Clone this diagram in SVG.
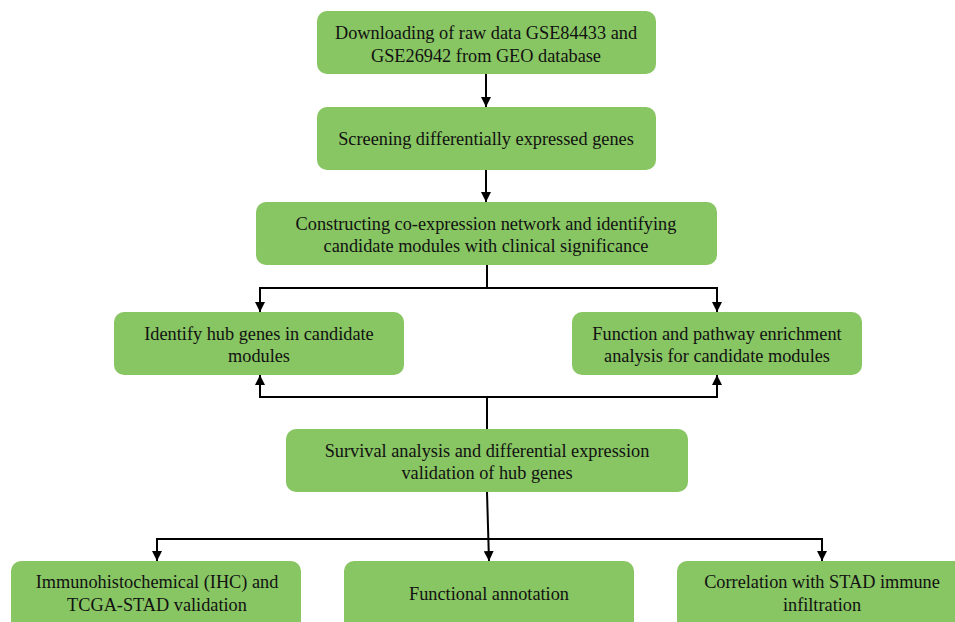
<svg xmlns="http://www.w3.org/2000/svg" width="955" height="622" viewBox="0 0 955 622">
<style>
.box{fill:#88c563;}
.t{font-size:18.3px;fill:#111;text-anchor:middle;}
.c{fill:none;stroke:#000;stroke-width:2;}
</style>
<defs>
<marker id="ah" viewBox="0 0 10 10" refX="10" refY="5" markerWidth="5" markerHeight="5" orient="auto" markerUnits="strokeWidth">
<path d="M0,0 L10,5 L0,10 z" fill="#000"/>
</marker>
</defs>
<rect width="955" height="622" fill="#fff"/>
<g id="connectors">
<path class="c" d="M486,74 V107" marker-end="url(#ah)"/>
<path class="c" d="M486,170 V202" marker-end="url(#ah)"/>
<path class="c" d="M487,265 V288"/>
<path class="c" d="M487,288 H260 V312" marker-end="url(#ah)"/>
<path class="c" d="M487,288 H717 V312" marker-end="url(#ah)"/>
<path class="c" d="M487,429 V397"/>
<path class="c" d="M487,397 H260 V375" marker-end="url(#ah)"/>
<path class="c" d="M487,397 H717 V375" marker-end="url(#ah)"/>
<path class="c" d="M487,492 L489,561" marker-end="url(#ah)"/>
<path class="c" d="M488,539 H157 V561" marker-end="url(#ah)"/>
<path class="c" d="M488,539 H822 V561" marker-end="url(#ah)"/>
</g>
<g font-family="Liberation Serif, Times New Roman, serif">
<g id="n1"><rect class="box" x="317" y="11" width="339" height="63" rx="10"/>
<text class="t" x="486" y="39">Downloading of raw data GSE84433 and</text>
<text class="t" x="486" y="62">GSE26942 from GEO database</text></g>
<g id="n2"><rect class="box" x="317" y="107" width="339" height="63" rx="10"/>
<text class="t" x="486" y="145">Screening differentially expressed genes</text></g>
<g id="n3"><rect class="box" x="256" y="202" width="461" height="63" rx="10"/>
<text class="t" x="486" y="230">Constructing co-expression network and identifying</text>
<text class="t" x="486" y="252">candidate modules with clinical significance</text></g>
<g id="n4"><rect class="box" x="114" y="312" width="290" height="63" rx="10"/>
<text class="t" x="259" y="340">Identify hub genes in candidate</text>
<text class="t" x="259" y="362">modules</text></g>
<g id="n5"><rect class="box" x="572" y="312" width="290" height="63" rx="10"/>
<text class="t" x="717" y="340">Function and pathway enrichment</text>
<text class="t" x="717" y="362">analysis for candidate modules</text></g>
<g id="n6"><rect class="box" x="286" y="429" width="402" height="63" rx="10"/>
<text class="t" x="487" y="457">Survival analysis and differential expression</text>
<text class="t" x="487" y="479">validation of hub genes</text></g>
<g id="n7"><rect class="box" x="11" y="561" width="290" height="72" rx="10"/>
<text class="t" x="157" y="588">Immunohistochemical (IHC) and</text>
<text class="t" x="157" y="611">TCGA-STAD validation</text></g>
<g id="n8"><rect class="box" x="344" y="561" width="290" height="72" rx="10"/>
<text class="t" x="489" y="600">Functional annotation</text></g>
<g id="n9"><rect class="box" x="677" y="561" width="290" height="72" rx="10"/>
<text class="t" x="822" y="588">Correlation with STAD immune</text>
<text class="t" x="822" y="611">infiltration</text></g>
</g>
</svg>
